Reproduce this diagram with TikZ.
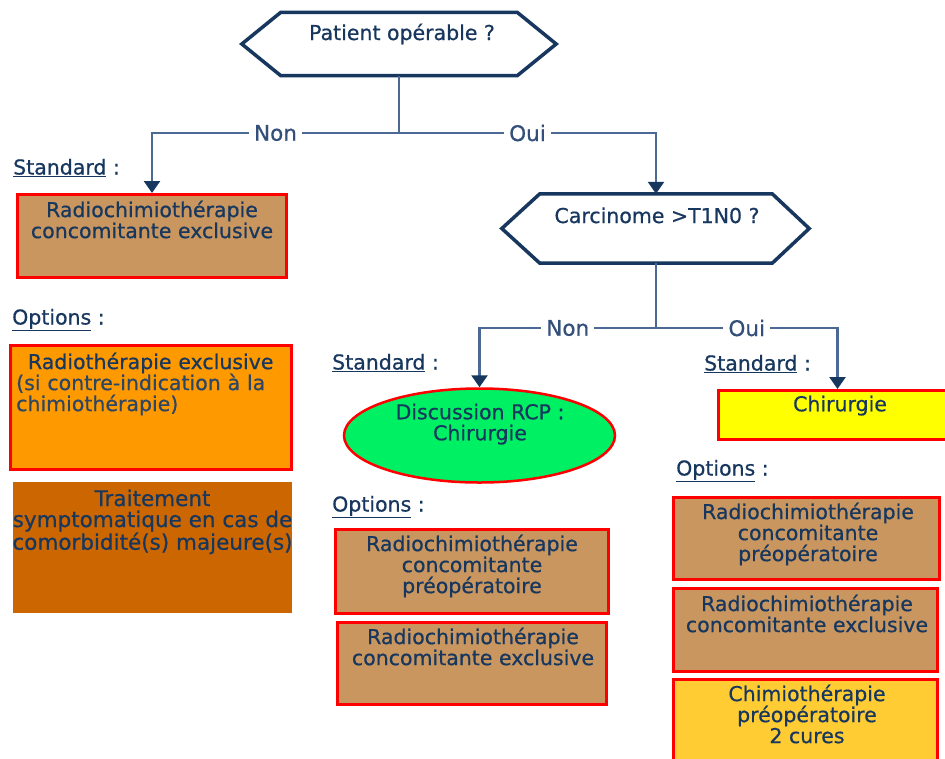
\documentclass[tikz,border=0pt]{standalone}
\usepackage{fontspec}
\setmainfont{DejaVu Sans}[FakeBold=0.6]
\usetikzlibrary{arrows.meta,calc,shapes.geometric}
\definecolor{navy}{HTML}{17375E}
\definecolor{lnk}{HTML}{4A6A94}
\definecolor{labc}{HTML}{34507A}
\definecolor{tanb}{HTML}{C99660}
\definecolor{orng}{HTML}{FF9900}
\definecolor{dkor}{HTML}{CC6600}
\definecolor{grn}{HTML}{00F064}
\definecolor{gold}{HTML}{FFCC33}
\definecolor{ylw}{HTML}{FFFF00}
\begin{document}
\begin{tikzpicture}[x=1pt,y=-1pt,
  txt/.style={font=\fontsize{20.5}{21}\selectfont, text=navy, inner sep=0pt, align=center, anchor=north},
  redbox/.style={draw=red, line width=3pt, anchor=north west, inner sep=0pt},
  plainbox/.style={draw=none, anchor=north west, inner sep=0pt},
  hexin/.style={draw=none, inner sep=0pt},
  hexline/.style={draw=navy, line width=3.5pt, line join=miter},
  conn/.style={draw=lnk, line width=2.5pt},
  arr/.style={-{Triangle[width=16pt,length=12pt,color=navy]}},
  lbl/.style={font=\fontsize{21.5}{21}\selectfont, text=labc, fill=white, inner xsep=5pt, inner ysep=1pt},
  head/.style={font=\fontsize{20.5}{21}\selectfont, text=navy, anchor=base west, inner sep=0pt}]

\path[use as bounding box, fill=white] (0,0) rectangle (945,758);
\clip (0,0) rectangle (945,758);

% ---- top decision
\node[hexin, minimum width=236pt, minimum height=63pt] (h1) at (399,44) {};
\draw[hexline] (h1.north west) -- (h1.north east) -- ($(h1.east)+(39,0)$) -- (h1.south east)
  -- (h1.south west) -- ($(h1.west)+(-39,0)$) -- cycle;
\node[txt, anchor=base] (h1t) at (402,40) {Patient opérable ?};

% ---- second decision
\node[hexin, minimum width=232pt, minimum height=69pt] (h2) at (656,228.5) {};
\draw[hexline] (h2.north west) -- (h2.north east) -- ($(h2.east)+(37,0)$) -- (h2.south east)
  -- (h2.south west) -- ($(h2.west)+(-38,0)$) -- cycle;
\node[txt, anchor=base] (h2t) at (657,223) {Carcinome >T1N0 ?};

% ---- left column
\node[head] (s1) at (13,174.5) {\underline{Standard} :};
\node[redbox, fill=tanb, minimum width=269pt, minimum height=83pt] (b1) at (16,193) {};
\node[txt] (b1t) at (152,200.5) {Radiochimiothérapie\\concomitante exclusive};

\node[head] (o1) at (12,324.5) {\underline{Options} :};
\node[redbox, fill=orng, minimum width=281pt, minimum height=124pt] (b2) at (9,344) {};
\node[txt, anchor=north west, text width=269pt, align=left] (b2t) at (16,352.5)
  {{\centering Radiothérapie exclusive\par}\color{navy!80!gray}(si contre-indication à la\\chimiothérapie)};

\node[plainbox, fill=dkor, minimum width=279pt, minimum height=131pt] (b3) at (13,482) {};
\node[txt, font=\fontsize{21.5}{21}\selectfont] (b3t) at (152.5,489.5) {Traitement\\symptomatique en cas de\\comorbidité(s) majeure(s)};

% ---- middle column
\node[head] (s2) at (332,369.5) {\underline{Standard} :};
\node[ellipse, draw=red, line width=2.5pt, fill=grn, minimum width=271pt, minimum height=94pt, inner sep=0pt] (el) at (479.5,435.5) {};
\node[txt] (elt) at (480,403.5) {Discussion RCP :\\Chirurgie};

\node[head] (o2) at (332,511.5) {\underline{Options} :};
\node[redbox, fill=tanb, minimum width=273pt, minimum height=84pt] (bA) at (334,528) {};
\node[txt] (bAt) at (472,534.5) {Radiochimiothérapie\\concomitante\\préopératoire};
\node[redbox, fill=tanb, minimum width=269pt, minimum height=82pt] (bB) at (336,621) {};
\node[txt] (bBt) at (473,627.5) {Radiochimiothérapie\\concomitante exclusive};

% ---- right column
\node[head] (s3) at (704,370.5) {\underline{Standard} :};
\node[redbox, fill=ylw, minimum width=238pt, minimum height=49pt] (ch) at (717,389) {};
\node[txt] (cht) at (840,395.5) {Chirurgie};

\node[head] (o3) at (676,475.5) {\underline{Options} :};
\node[redbox, fill=tanb, minimum width=266pt, minimum height=82pt] (bC) at (672,496) {};
\node[txt] (bCt) at (808,502.5) {Radiochimiothérapie\\concomitante\\préopératoire};
\node[redbox, fill=tanb, minimum width=264pt, minimum height=83pt] (bD) at (672,587) {};
\node[txt] (bDt) at (807,594.5) {Radiochimiothérapie\\concomitante exclusive};
\node[redbox, fill=gold, minimum width=264pt, minimum height=122pt] (bE) at (672,678) {};
\node[txt] (bEt) at (807,684.5) {Chimiothérapie\\préopératoire\\2 cures};

% ---- connectors
\coordinate (j1) at (h1.south |- 0,133);
\coordinate (c1) at (b1.north |- j1);
\coordinate (c2) at (h2.north |- j1);
\draw[conn] (h1.south) -- (j1);
\draw[conn, arr] (j1) -- node[lbl] {Non} (c1) -- (b1.north);
\draw[conn, arr] (j1) -- node[lbl] {Oui} (c2) -- (h2.north);

\coordinate (j2) at (h2.south |- 0,328);
\coordinate (c3) at (el.north |- j2);
\coordinate (c4) at (ch.north |- j2);
\draw[conn] (h2.south) -- (j2);
\draw[conn, arr] (j2) -- node[lbl] {Non} (c3) -- (el.north);
\draw[conn, arr] (j2) -- node[lbl] {Oui} (c4) -- (ch.north);
\end{tikzpicture}
\end{document}
